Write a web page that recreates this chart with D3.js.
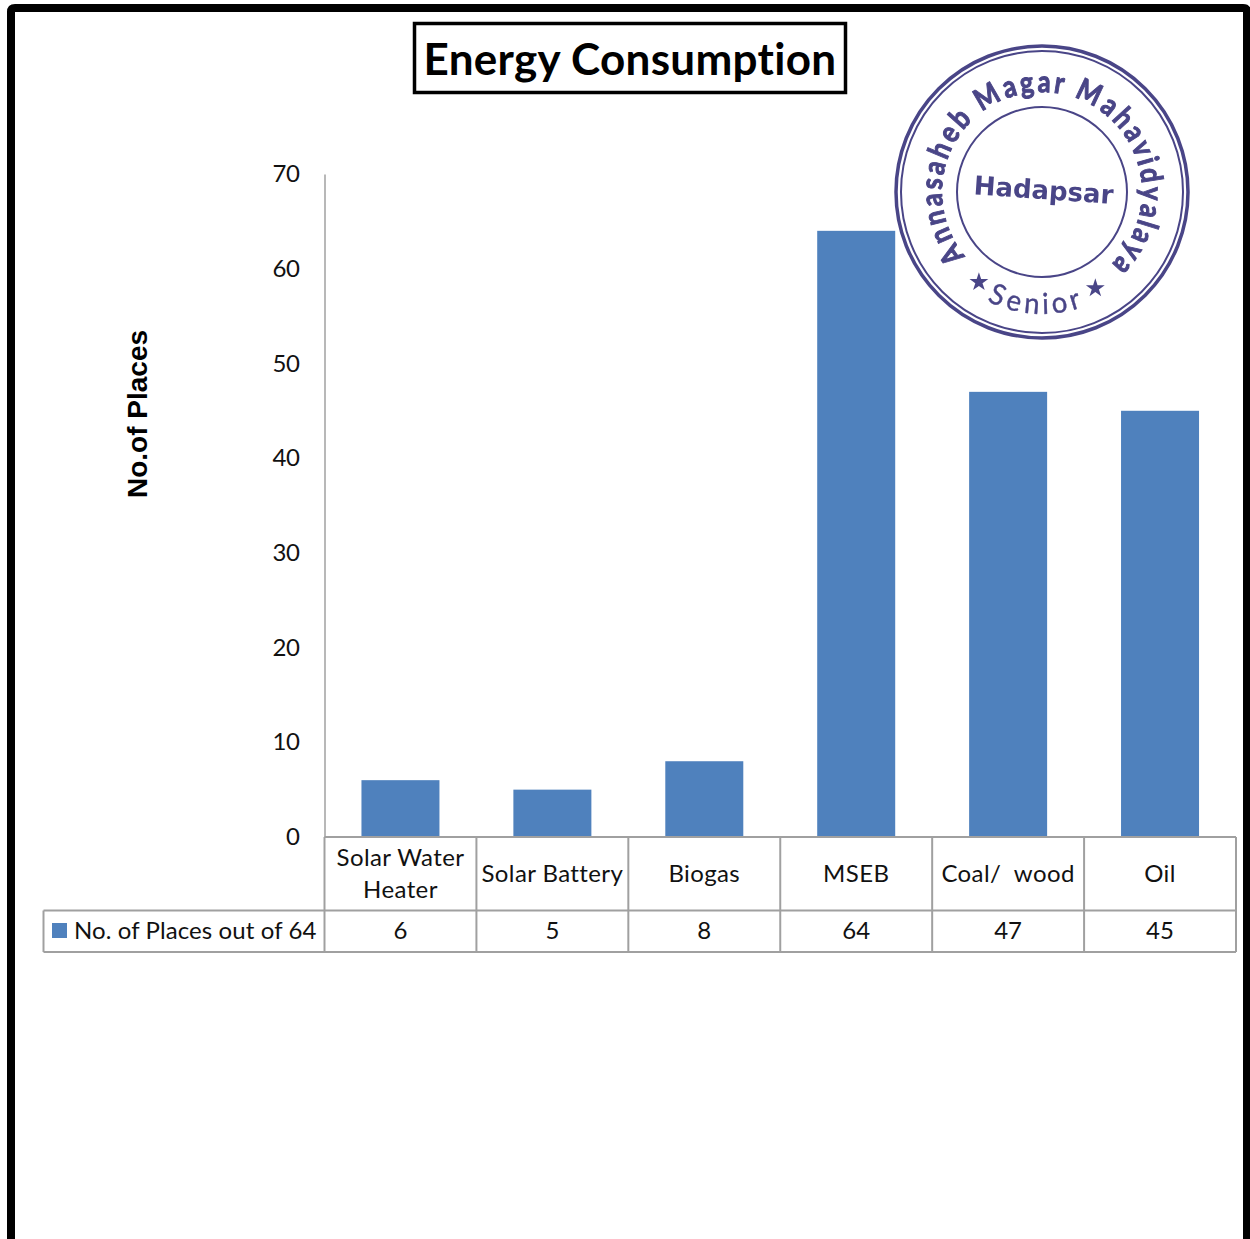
<!DOCTYPE html>
<html>
<head>
<meta charset="utf-8">
<style>
  html, body { margin: 0; padding: 0; background: #fff; }
  svg { display: block; }
  text { font-family: Lato, "Open Sans", sans-serif; fill: #111; font-variant-ligatures: none; }
</style>
<script src="https://cdn.jsdelivr.net/npm/d3@7/dist/d3.min.js"></script>
</head>
<body>
<div id="chart"></div>
<script>
const categories = [["Solar Water", "Heater"], ["Solar Battery"], ["Biogas"], ["MSEB"], ["Coal/  wood"], ["Oil"]];
const places = [6, 5, 8, 64, 47, 45];
const yTicks = [0, 10, 20, 30, 40, 50, 60, 70];
const seriesName = "No. of Places out of 64";
const chartTitle = "Energy Consumption";
const yTitle = "No.of Places";

const W = 1250, H = 1239;
const plot = { left: 324.5, right: 1236, top: 174, bottom: 837 };
const rows = { cat: 910.5, val: 952, legendLeft: 43.5 };
const BLUE = "#4f81bd", GRID = "#a0a0a0", INK = "#4a4587";

const svg = d3.select("#chart").append("svg").attr("width", W).attr("height", H);

// Page frame, open at the bottom
svg.append("path")
  .attr("d", "M11,1239V12Q11,8 15,8H1243Q1247,8 1247,12V1239")
  .attr("fill", "none").attr("stroke", "#000").attr("stroke-width", 8);

// Boxed heading
svg.append("rect").attr("x", 414.5).attr("y", 23.5).attr("width", 431).attr("height", 69)
  .attr("fill", "#fff").attr("stroke", "#000").attr("stroke-width", 3.5);
svg.append("text").attr("x", 630).attr("y", 75).attr("text-anchor", "middle")
  .attr("font-size", 44).attr("letter-spacing", 0.3).attr("font-weight", 700).style("fill", "#000").text(chartTitle);

const x = d3.scaleBand().domain(d3.range(categories.length)).range([plot.left, plot.right]);
const y = d3.scaleLinear().domain([0, 70]).range([plot.bottom, plot.top]);

// Bars
const barW = 78;
svg.append("g").selectAll("rect").data(places).join("rect")
  .attr("x", (d, i) => x(i) + (x.bandwidth() - barW) / 2)
  .attr("width", barW)
  .attr("y", d => y(d))
  .attr("height", d => y(0) - y(d))
  .attr("fill", BLUE);

// Value axis
const yAxis = svg.append("g").attr("transform", `translate(${plot.left},0)`)
  .call(d3.axisLeft(y).tickValues(yTicks).tickSize(0).tickPadding(25));
yAxis.select(".domain").attr("stroke", GRID).attr("stroke-width", 1.5);
yAxis.selectAll("text").attr("font-size", 24).attr("font-family", "Lato").attr("letter-spacing", -0.4).style("fill", "#111");

svg.append("text")
  .attr("transform", "translate(147,414) rotate(-90)")
  .attr("text-anchor", "middle")
  .attr("font-size", 28).attr("font-weight", 700)
  .style("font-family", "'Liberation Sans', Arial, sans-serif")
  .style("fill", "#000").text(yTitle);

// Data table under the plot
const grid = svg.append("g").attr("stroke", GRID).attr("stroke-width", 2).attr("fill", "none");
grid.append("line").attr("x1", plot.left).attr("x2", plot.right).attr("y1", plot.bottom).attr("y2", plot.bottom);
grid.append("line").attr("x1", rows.legendLeft).attr("x2", plot.right).attr("y1", rows.cat).attr("y2", rows.cat);
grid.append("line").attr("x1", rows.legendLeft).attr("x2", plot.right).attr("y1", rows.val).attr("y2", rows.val);
grid.append("line").attr("x1", rows.legendLeft).attr("x2", rows.legendLeft).attr("y1", rows.cat).attr("y2", rows.val);
grid.selectAll(".sep").data(d3.range(categories.length + 1)).join("line")
  .attr("class", "sep")
  .attr("x1", i => plot.left + i * x.bandwidth())
  .attr("x2", i => plot.left + i * x.bandwidth())
  .attr("y1", plot.bottom).attr("y2", rows.val);

const catText = svg.append("g").attr("text-anchor", "middle").attr("font-size", 24).attr("letter-spacing", 0.4);
categories.forEach((lines, i) => {
  const cx = x(i) + x.bandwidth() / 2;
  lines.forEach((line, k) => {
    const base = lines.length === 1 ? 882 : 866 + k * 32;
    catText.append("text").attr("x", cx).attr("y", base).style("white-space", "pre").text(line);
  });
});
svg.append("g").attr("text-anchor", "middle").attr("font-size", 24)
  .selectAll("text").data(places).join("text")
  .attr("x", (d, i) => x(i) + x.bandwidth() / 2)
  .attr("y", 939).text(d => d);

// Legend cell
svg.append("rect").attr("x", 52).attr("y", 923).attr("width", 15).attr("height", 15).attr("fill", BLUE);
svg.append("text").attr("x", 74).attr("y", 939).attr("font-size", 24).attr("letter-spacing", 0.1).text(seriesName);

// Round institutional stamp over the top right corner
const defs = svg.append("defs");
defs.append("filter").attr("id", "ink").append("feGaussianBlur").attr("stdDeviation", 0.6);
const cx = 1042, cy = 192;
const stamp = svg.append("g").attr("filter", "url(#ink)");
const rings = [[146, 3.5], [141, 2], [85, 2]];
stamp.selectAll("circle").data(rings).join("circle")
  .attr("cx", cx).attr("cy", cy).attr("r", d => d[0])
  .attr("fill", "none").attr("stroke", INK).attr("stroke-width", d => d[1]);

// Lays a string around the ring one glyph at a time, spread between two angles
function ringText(str, a0, a1, radius, opts) {
  const g = stamp.append("g").attr("font-size", opts.size).attr("font-weight", opts.weight)
    .style("font-family", "'Liberation Sans', sans-serif");
  const glyphs = g.selectAll("text").data(Array.from(str)).join("text")
    .attr("text-anchor", "middle").style("fill", INK).attr("stroke", INK).attr("stroke-width", opts.stroke)
    .style("white-space", "pre").text(d => d);
  const widths = glyphs.nodes().map(n => n.getComputedTextLength() + 1);
  const total = d3.sum(widths);
  let run = 0;
  const angle = d3.scaleLinear().domain([0, total]).range([a0, a1]);
  glyphs.attr("transform", (d, i) => {
    const a = angle(run + widths[i] / 2);
    run += widths[i];
    const rad = a * Math.PI / 180;
    const px = cx + radius * Math.sin(rad), py = cy - radius * Math.cos(rad);
    const turn = opts.inward ? a + 180 : a;
    return `translate(${px},${py}) rotate(${turn}) scale(${opts.squeeze},1)`;
  });
}
ringText("Annasaheb Magar Mahavidyalaya", -131, 137, 100, { size: 30, weight: 700, stroke: 1, squeeze: 0.85 });
ringText("Senior", 208, 160, 122, { size: 29, weight: 400, stroke: 0.4, squeeze: 0.95, inward: true });

stamp.append("text").attr("x", cx + 1).attr("y", 199).attr("text-anchor", "middle")
  .style("fill", INK).style("font-family", "'DejaVu Sans', sans-serif").attr("font-weight", 700)
  .attr("font-size", 26).attr("transform", `rotate(4 ${cx} 199)`).text("Hadapsar");
const star = d3.symbol().type(d3.symbolStar).size(110);
[-145, 151].forEach(a => {
  const px = cx + 110 * Math.sin(a * Math.PI / 180);
  const py = cy - 110 * Math.cos(a * Math.PI / 180);
  stamp.append("path").attr("d", star()).attr("transform", `translate(${px},${py})`).attr("fill", INK);
});
</script>
</body>
</html>
